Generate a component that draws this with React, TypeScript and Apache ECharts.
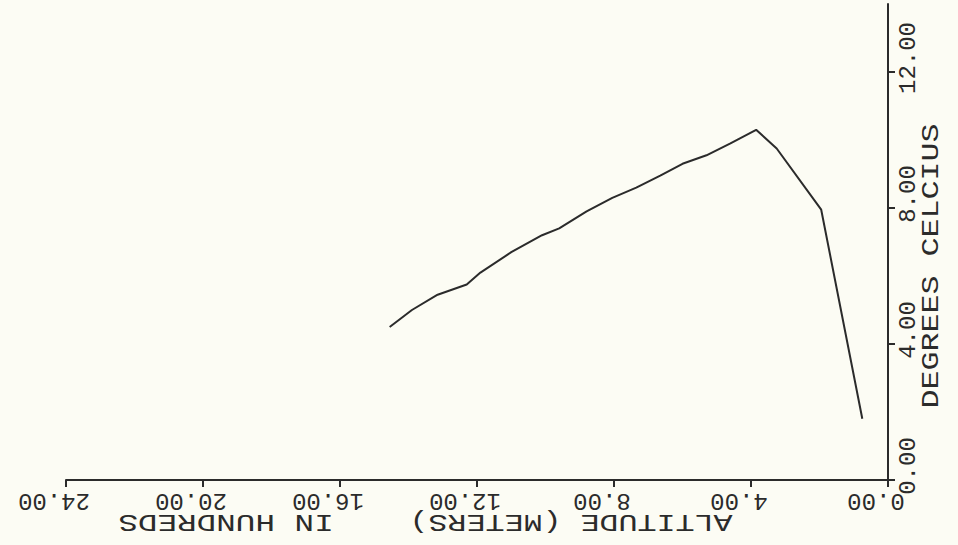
import React, { useEffect, useRef } from "react";
import * as echarts from "echarts";

// Altitude in hundreds of metres (horizontal axis, drawn right-to-left)
const altitudeHundredsM = [14.55, 13.9, 13.15, 12.3, 11.9, 11.0, 10.1, 9.6, 8.8, 8.05, 7.35, 6.65, 6.0, 5.3, 4.6, 3.85, 3.25, 1.95, 0.75];
// Temperature in degrees Celsius (vertical axis)
const temperatureC = [4.5, 5.0, 5.45, 5.75, 6.1, 6.7, 7.2, 7.4, 7.9, 8.3, 8.6, 8.95, 9.3, 9.55, 9.9, 10.3, 9.75, 7.95, 1.8];

const altitudeTicks = [0, 4, 8, 12, 16, 20, 24];
const temperatureTicks = [0, 4, 8, 12];
const altitudeTitleA = "ALTITUDE (METERS)";
const altitudeTitleB = "IN HUNDREDS";
const temperatureTitle = "DEGREES CELCIUS";

const FONT = "'Liberation Mono', 'DejaVu Sans Mono', monospace";
const INK = "#2b2b2b";

const labelRich = (gap: number) => ({
  g: { width: gap, fontFamily: FONT, fontSize: 24, color: INK },
  t: { fontFamily: FONT, fontSize: 24, color: INK },
});

export default function App() {
  const ref = useRef<HTMLDivElement>(null);

  useEffect(() => {
    if (!ref.current) return;
    const chart = echarts.init(ref.current, undefined, { renderer: "svg" });
    const data = altitudeHundredsM.map((a, i) => [a, temperatureC[i]]);
    const option: any = {
      animation: false,
      backgroundColor: "#fcfcf4",
      grid: { left: 66, right: 70, top: 4, bottom: 65, containLabel: false, outerBoundsMode: "none" },
      xAxis: {
        type: "value",
        inverse: true,
        min: altitudeTicks[0],
        max: altitudeTicks[altitudeTicks.length - 1],
        interval: 4,
        splitLine: { show: false },
        axisLine: { show: true, onZero: false, lineStyle: { color: INK, width: 2 } },
        axisTick: { show: true, length: 7, lineStyle: { color: INK, width: 2 }, customValues: altitudeTicks },
        axisLabel: {
          customValues: altitudeTicks,
          rotate: 180,
          margin: 8,
          color: INK,
          fontFamily: FONT,
          fontSize: 24,
          hideOverlap: false,
          rich: labelRich(24),
          formatter: (v: number) => `{g|\u00A0}{t|${Number(v).toFixed(2)}}`,
        },
      },
      yAxis: {
        type: "value",
        position: "right",
        min: 0,
        max: 14,
        interval: 4,
        splitLine: { show: false },
        axisLine: { show: true, onZero: false, lineStyle: { color: INK, width: 2 } },
        axisTick: { show: true, length: 7, lineStyle: { color: INK, width: 2 }, customValues: temperatureTicks },
        axisLabel: {
          customValues: temperatureTicks,
          rotate: 90,
          margin: 8,
          color: INK,
          fontFamily: FONT,
          fontSize: 24,
          hideOverlap: false,
          rich: labelRich(28),
          formatter: (v: number) => (v > 13 ? "" : `{g|\u00A0}{t|${Number(v).toFixed(2)}}`),
        },
      },
      graphic: [
        {
          type: "text",
          x: 571,
          y: 521,
          rotation: Math.PI,
          scaleX: 1.32,
          style: { text: altitudeTitleA, fill: INK, font: `24px ${FONT}`, align: "center", verticalAlign: "middle" },
        },
        {
          type: "text",
          x: 226,
          y: 521,
          rotation: Math.PI,
          scaleX: 1.36,
          style: { text: altitudeTitleB, fill: INK, font: `24px ${FONT}`, align: "center", verticalAlign: "middle" },
        },
        {
          type: "text",
          x: 932,
          y: 266,
          rotation: Math.PI / 2,
          scaleX: 1.32,
          style: { text: temperatureTitle, fill: INK, font: `24px ${FONT}`, align: "center", verticalAlign: "middle" },
        },
      ],
      series: [
        {
          type: "line",
          data,
          showSymbol: false,
          symbol: "none",
          smooth: false,
          lineStyle: { color: INK, width: 2 },
        },
      ],
    };
    chart.setOption(option);
    return () => chart.dispose();
  }, []);

  return (
    <div
      ref={ref}
      style={{ position: "fixed", left: 0, top: 0, width: 958, height: 545 }}
    />
  );
}
